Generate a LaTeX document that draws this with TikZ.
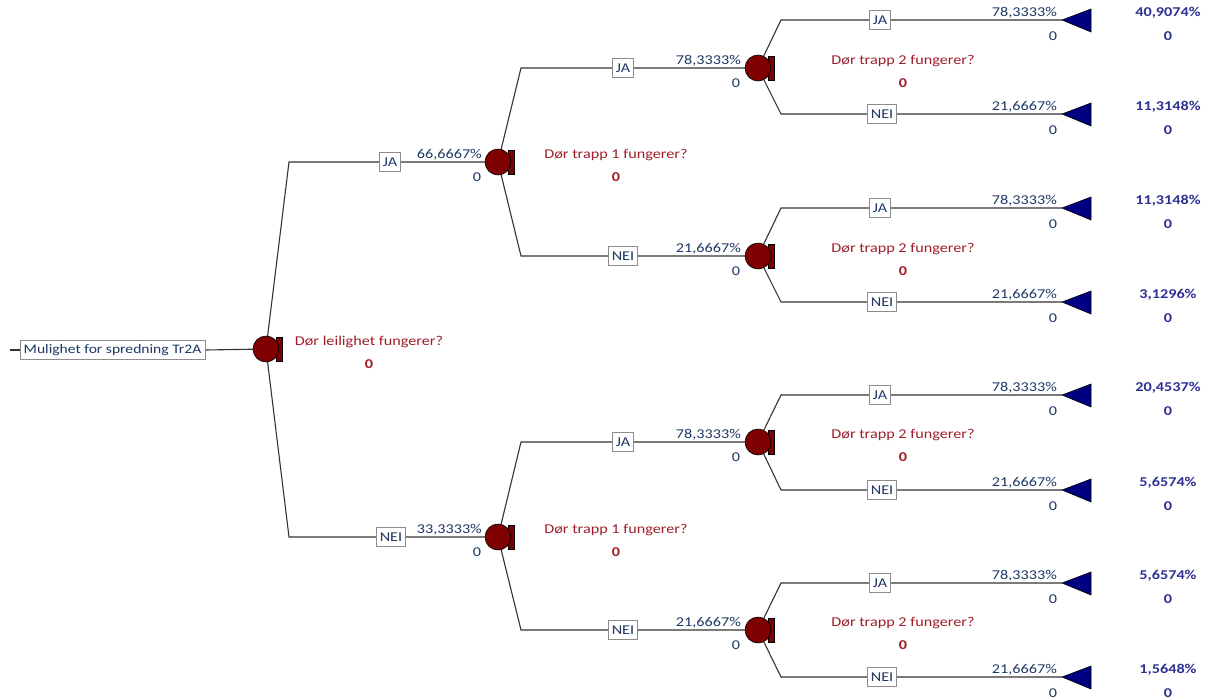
\documentclass[tikz,border=0pt]{standalone}
\usepackage{fontspec}
\setmainfont{Carlito}[FakeStretch=1.2]
\usetikzlibrary{backgrounds}
\definecolor{maroonc}{HTML}{7F0000}
\definecolor{navytri}{HTML}{000080}
\definecolor{txtnavy}{HTML}{1F3864}
\definecolor{qred}{HTML}{9E1E2A}
\definecolor{valblue}{HTML}{2E3192}
\definecolor{linec}{HTML}{333333}
\definecolor{boxc}{HTML}{8C8C8C}
\begin{document}
\begin{tikzpicture}[x=1pt,y=-1pt,
  every node/.style={font=\fontsize{13.5}{15}\selectfont, inner sep=0pt},
  conn/.style={draw=linec, line width=1.1pt},
  chance/.style={circle, draw=black, line width=0.6pt, fill=maroonc, minimum size=26pt},
  flag/.style={fill=maroonc, draw=black, line width=0.5pt},
  endtri/.style={fill=navytri, draw=black, line width=0.6pt},
  lbl/.style={draw=boxc, fill=white, line width=0.8pt, text=txtnavy, inner xsep=3pt, minimum height=19pt},
  prob/.style={text=txtnavy, anchor=base east},
  zero/.style={text=txtnavy, anchor=base},
  qtext/.style={text=qred, anchor=base},
  qzero/.style={text=qred, anchor=base, font=\fontsize{13.5}{15}\selectfont\bfseries},
  val/.style={text=valblue, anchor=base, font=\fontsize{13.5}{15}\selectfont\bfseries}
]
\useasboundingbox (0,0) rectangle (1210,699);

% root
\coordinate (start) at (10,350);
\node[lbl, minimum width=185pt, font=\fontsize{13}{15}\selectfont] (root) at (112.5,350) {Mulighet for spredning Tr2A};
\node[chance] (c0) at (266,349) {};
\begin{scope}[on background layer]
  \draw[conn] (start) -- (root.west);
  \draw[conn] (root.east) -- (c0.center);
  \draw[flag, shift={(c0.center)}] (10,-12) rectangle (16,12);
\end{scope}
\node[qtext] (q0) at (369,345) {Dør leilighet fungerer?};
\node[qzero] (q0v) at (369,368) {0};

% level 1
\foreach \n/\y/\lab/\lx/\p in {1/162/JA/390/{66,6667\%}, 2/537/NEI/391/{33,3333\%}} {
  \node[chance] (c\n) at (498,\y) {};
  \coordinate (b\n) at (289,\y);
  \node[lbl] (l\n) at (\lx,\y) {\lab};
  \begin{scope}[on background layer]
    \draw[conn] (c0.center) -- (b\n) -- (c\n.center);
    \draw[flag, shift={(c\n.center)}] (10,-12) rectangle (16,12);
  \end{scope}
  \node[prob] (p\n) at (482,\y-4) {\p};
  \node[zero] (z\n) at (477,\y+19) {0};
  \node[qtext] (q\n) at (616,\y-4) {Dør trapp 1 fungerer?};
  \node[qzero] (qv\n) at (616,\y+19) {0};
}

% level 2
\foreach \n/\pa/\y/\lab/\lx/\p in {11/1/68/JA/623/{78,3333\%}, 12/1/256/NEI/623/{21,6667\%}, 21/2/442/JA/623/{78,3333\%}, 22/2/630/NEI/623/{21,6667\%}} {
  \node[chance] (c\n) at (758,\y) {};
  \coordinate (b\n) at (521,\y);
  \node[lbl] (l\n) at (\lx,\y) {\lab};
  \begin{scope}[on background layer]
    \draw[conn] (c\pa.center) -- (b\n) -- (c\n.center);
    \draw[flag, shift={(c\n.center)}] (10,-12) rectangle (16,12);
  \end{scope}
  \node[prob] (p\n) at (741,\y-4) {\p};
  \node[zero] (z\n) at (736,\y+19) {0};
  \node[qtext] (q\n) at (903,\y-4) {Dør trapp 2 fungerer?};
  \node[qzero] (qv\n) at (903,\y+19) {0};
}

% level 3 (end nodes)
\foreach \n/\pa/\y/\lab/\lx/\p/\v in {
  111/11/20/JA/880/{78,3333\%}/{40,9074\%},
  112/11/114/NEI/882/{21,6667\%}/{11,3148\%},
  121/12/208/JA/880/{78,3333\%}/{11,3148\%},
  122/12/302/NEI/882/{21,6667\%}/{3,1296\%},
  211/21/395/JA/880/{78,3333\%}/{20,4537\%},
  212/21/490/NEI/882/{21,6667\%}/{5,6574\%},
  221/22/583/JA/880/{78,3333\%}/{5,6574\%},
  222/22/677/NEI/882/{21,6667\%}/{1,5648\%}} {
  \coordinate (e\n) at (1062,\y);
  \coordinate (b\n) at (781,\y);
  \node[lbl] (l\n) at (\lx,\y) {\lab};
  \begin{scope}[on background layer]
    \draw[conn] (c\pa.center) -- (b\n) -- (e\n);
  \end{scope}
  \draw[endtri] (e\n) -- ++(29,-11) -- ++(0,23) -- cycle;
  \node[prob] (p\n) at (1057,\y-4) {\p};
  \node[zero] (z\n) at (1053,\y+20) {0};
  \node[val] (v\n) at (1168,\y-4) {\v};
  \node[val] (vz\n) at (1168,\y+20) {0};
}
\end{tikzpicture}
\end{document}
